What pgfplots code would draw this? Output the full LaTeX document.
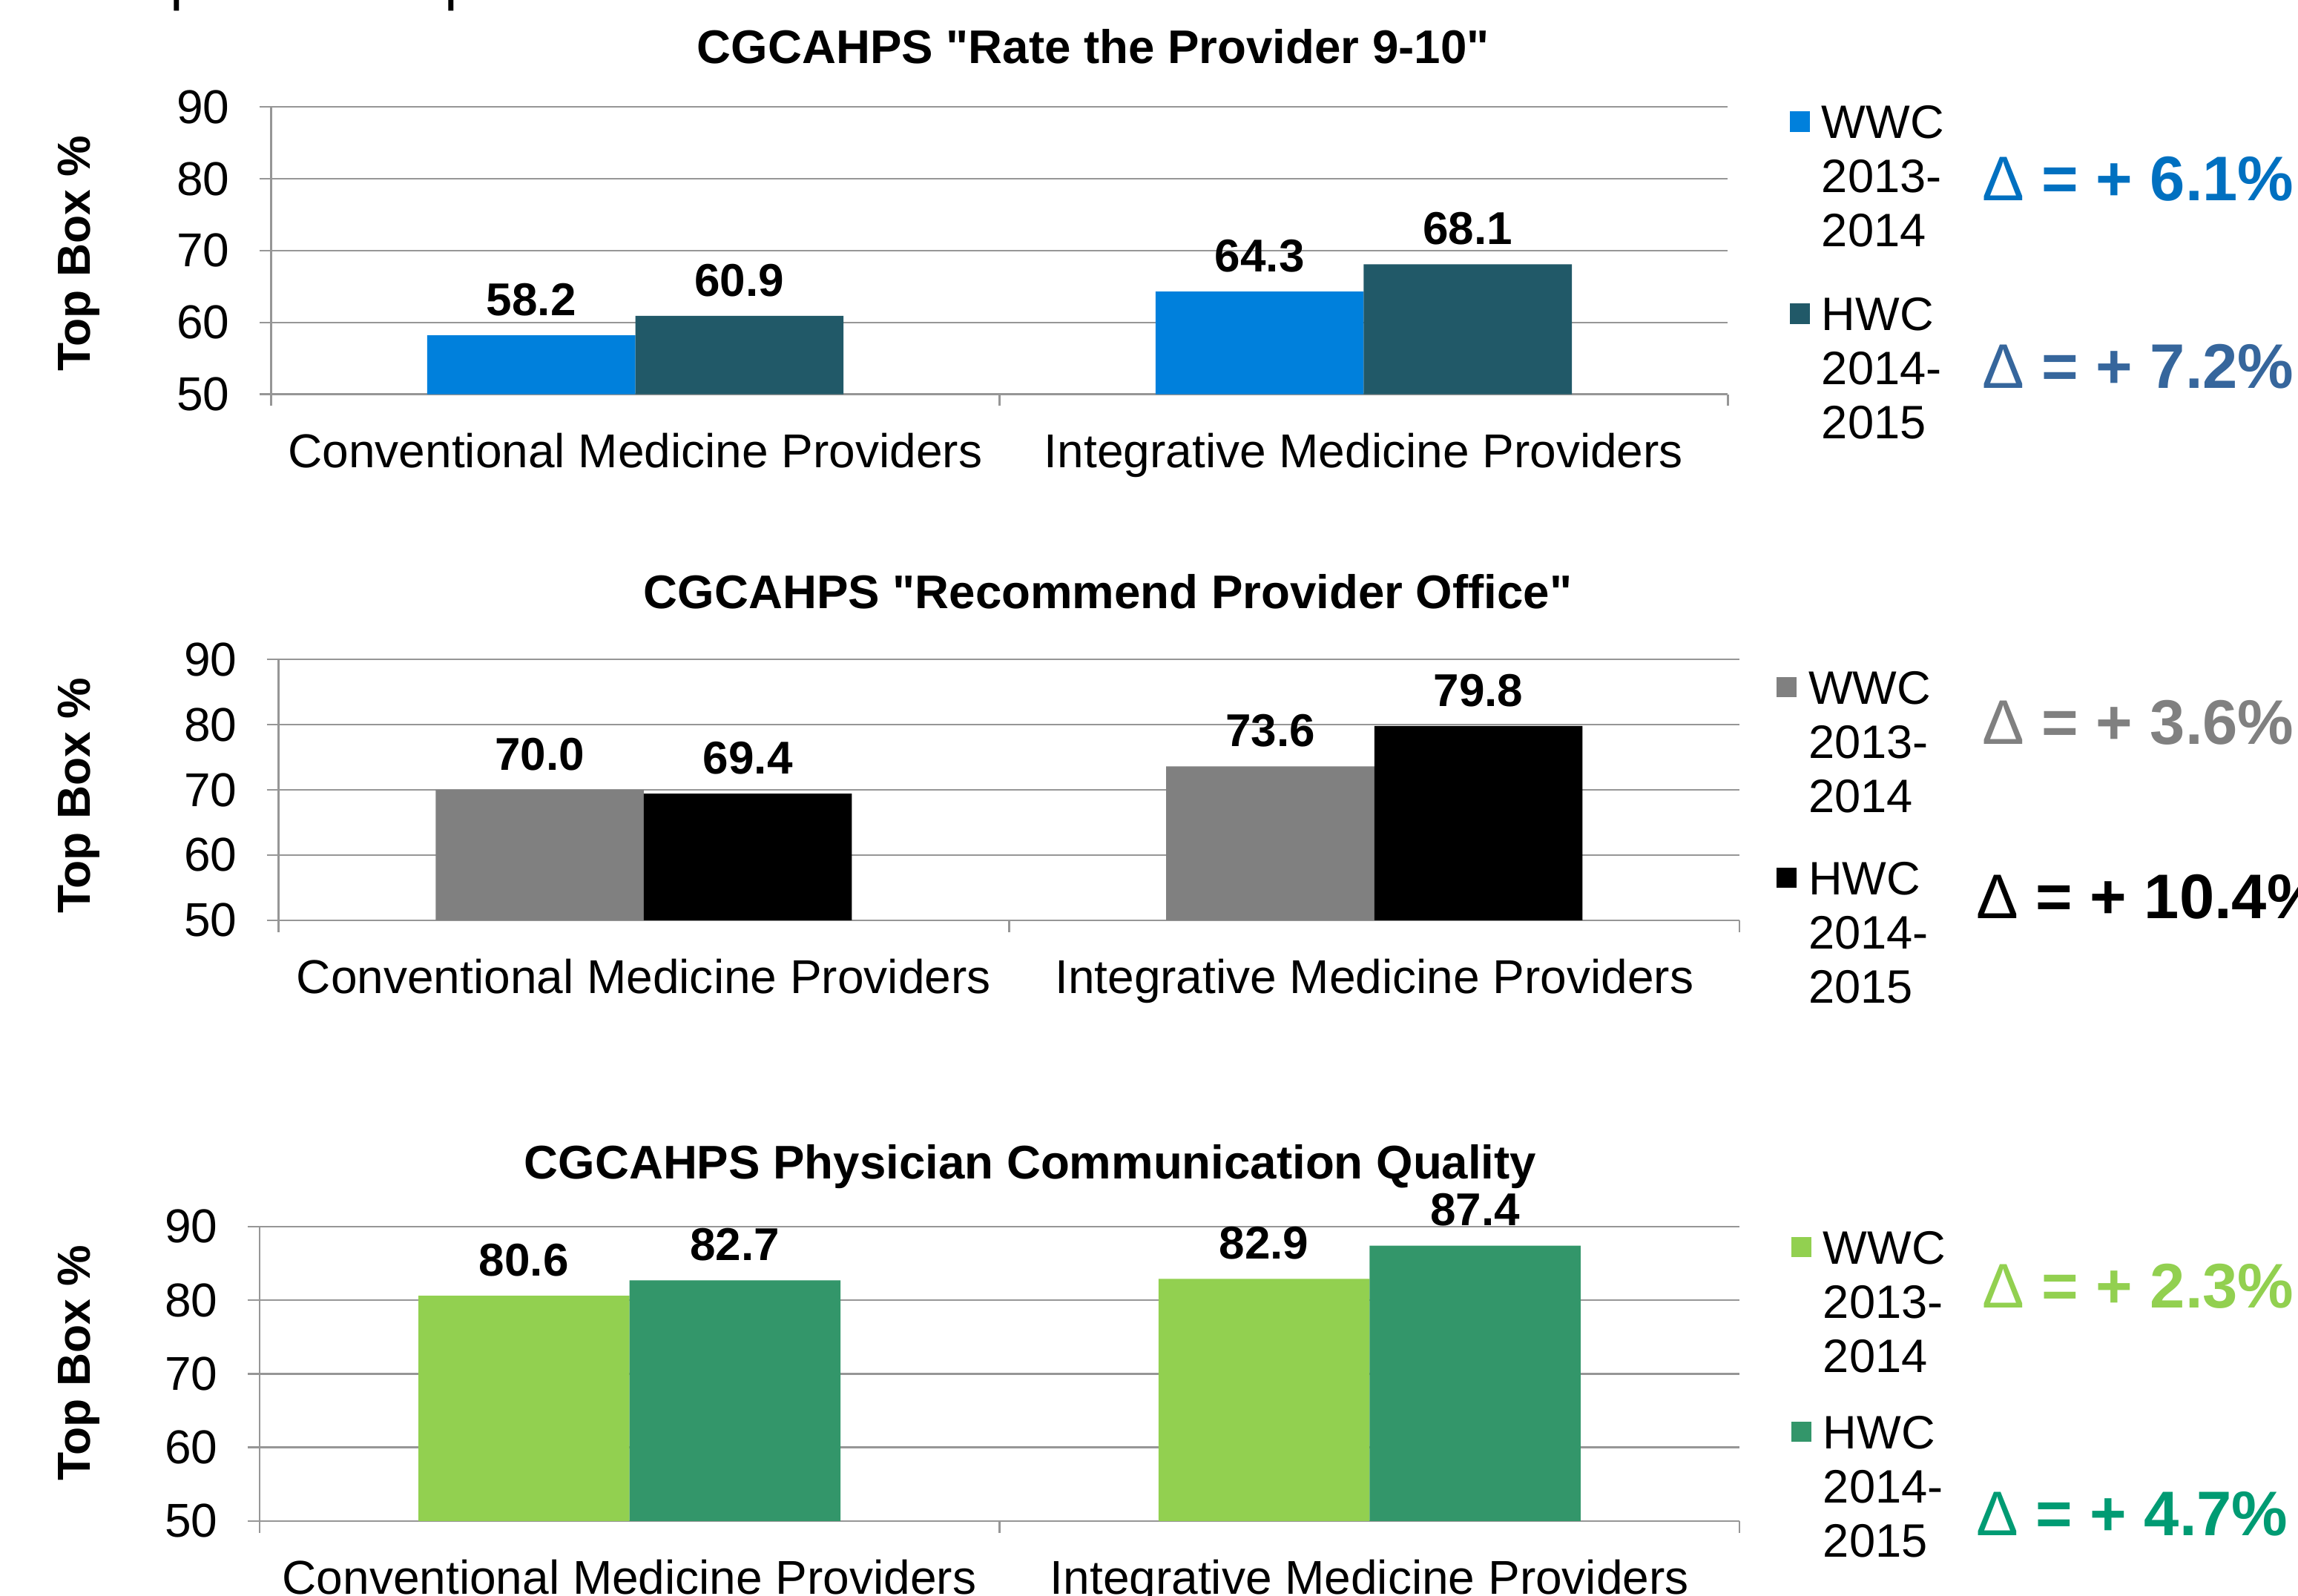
\documentclass[border=0pt]{standalone}
\usepackage{pgfplots}
\pgfplotsset{compat=1.18}
\usepackage{fontspec}
\setmainfont{Liberation Sans}[Ligatures=TeXOff]
\definecolor{gridgray}{RGB}{150,150,150}
\definecolor{blueWWC}{RGB}{0,128,220}
\definecolor{tealHWC}{RGB}{33,89,104}
\definecolor{dBlueA}{RGB}{0,112,192}
\definecolor{dBlueB}{RGB}{54,102,156}
\definecolor{grayWWC}{RGB}{128,128,128}
\definecolor{greenWWC}{RGB}{146,208,80}
\definecolor{greenHWC}{RGB}{51,150,106}
\definecolor{dGreenB}{RGB}{0,155,115}

\newcommand{\ls}{\rule[-5.55pt]{0pt}{18.5pt}}
\newcommand{\lgap}[1]{\rule[-#1]{0pt}{0pt}}

\pgfplotsset{
  sq/.style={fill=#1, draw=none,
    legend image code/.code={\path[fill=#1] (0pt,2.25pt) rectangle (7pt,9.25pt);}},
  mybars/.style={
    ybar=0pt, scale only axis, anchor=south west,
    xmin=-0.5, xmax=1.5, ymin=50, ymax=90,
    xtick={-0.5,0.5,1.5}, xticklabels={},
    extra x ticks={0,1},
    extra x tick labels={Conventional Medicine Providers, Integrative Medicine Providers},
    extra x tick style={major tick length=0pt, xmajorgrids=false},
    ytick={50,60,70,80,90},
    tick align=outside, major tick length=4pt,
    tick style={draw=gridgray, line width=0.6pt},
    axis x line*=bottom, axis y line*=left,
    axis line style={draw=gridgray, line width=0.6pt, -},
    ymajorgrids, major grid style={draw=gridgray, line width=0.6pt},
    ticklabel style={font=\fontsize{16.2}{19}\selectfont},
    xticklabel style={anchor=base, inner sep=0pt, yshift=-25pt},
    yticklabel style={anchor=east, inner sep=0pt, xshift=-10pt},
    /pgf/number format/assume math mode=true,
    nodes near coords={\pgfmathprintnumber[fixed,fixed zerofill,precision=1]{\pgfplotspointmeta}},
    every node near coord/.append style={font=\bfseries\fontsize{15.7}{18}\selectfont,
      anchor=south, inner sep=0pt, yshift=6.4pt, text=black},
    legend style={draw=none, fill=none, inner sep=0pt, outer sep=0pt,
      anchor=north west, column sep=4pt, row sep=0pt,
      nodes={anchor=base west, inner sep=0pt, text depth=, text height=},
      font=\fontsize{16}{18.5}\selectfont},
  }
}

\begin{document}
\begin{tikzpicture}

% ---------- top chart ----------
\begin{axis}[mybars, at={(92.5pt,-134.5pt)}, width=497pt, height=98pt,
  bar width=71pt,
  legend style={at={(1.0423,1.0224)}}]
\addplot[sq=blueWWC] coordinates {(0,58.2) (1,64.3)};
\addlegendentry{\ls WWC}
\addlegendimage{empty legend}\addlegendentry{\ls 2013-}
\addlegendimage{empty legend}\addlegendentry{\ls 2014\lgap{15.55pt}}
\addplot[sq=tealHWC] coordinates {(0,60.9) (1,68.1)};
\addlegendentry{\ls HWC}
\addlegendimage{empty legend}\addlegendentry{\ls 2014-}
\addlegendimage{empty legend}\addlegendentry{\ls 2015}
\end{axis}

% ---------- middle chart ----------
\begin{axis}[mybars, at={(95pt,-314pt)}, width=498.5pt, height=89pt,
  bar width=71pt,
  legend style={at={(1.0251,0.9742)}}]
\addplot[sq=grayWWC] coordinates {(0,70.0) (1,73.6)};
\addlegendentry{\ls WWC}
\addlegendimage{empty legend}\addlegendentry{\ls 2013-}
\addlegendimage{empty legend}\addlegendentry{\ls 2014\lgap{15.05pt}}
\addplot[sq=black] coordinates {(0,69.4) (1,79.8)};
\addlegendentry{\ls HWC}
\addlegendimage{empty legend}\addlegendentry{\ls 2014-}
\addlegendimage{empty legend}\addlegendentry{\ls 2015}
\end{axis}

% ---------- bottom chart ----------
\begin{axis}[mybars, at={(88.5pt,-519pt)}, width=505pt, height=100.5pt,
  bar width=72pt,
  legend style={at={(1.0347,1.002)}}]
\addplot[sq=greenWWC] coordinates {(0,80.6) (1,82.9)};
\addlegendentry{\ls WWC}
\addlegendimage{empty legend}\addlegendentry{\ls 2013-}
\addlegendimage{empty legend}\addlegendentry{\ls 2014\lgap{13.05pt}}
\addplot[sq=greenHWC] coordinates {(0,82.7) (1,87.4)};
\addlegendentry{\ls HWC}
\addlegendimage{empty legend}\addlegendentry{\ls 2014-}
\addlegendimage{empty legend}\addlegendentry{\ls 2015}
\end{axis}

\begin{scope}[x=0.5pt, y=-0.5pt]
  % remnants of a line of text above the picture
  \node[anchor=base west, inner sep=0pt, font=\fontsize{20}{24}\selectfont] at (116,-1) {p};
  \node[anchor=base west, inner sep=0pt, font=\fontsize{20}{24}\selectfont] at (303,-1) {p};
  % titles
  \node[anchor=base, inner sep=0pt, font=\bfseries\fontsize{16.1}{19}\selectfont] at (746,43.5) {CGCAHPS "Rate the Provider 9-10"};
  \node[anchor=base, inner sep=0pt, font=\bfseries\fontsize{16.1}{19}\selectfont] at (756,415.5) {CGCAHPS "Recommend Provider Office"};
  \node[anchor=base, inner sep=0pt, font=\bfseries\fontsize{16.1}{19}\selectfont] at (703,804.5) {CGCAHPS Physician Communication Quality};
  % y labels
  \node[rotate=90, inner sep=0pt, font=\bfseries\fontsize{15.8}{18}\selectfont] at (54,173) {Top Box \%};
  \node[rotate=90, inner sep=0pt, font=\bfseries\fontsize{15.8}{18}\selectfont] at (54,543) {Top Box \%};
  \node[rotate=90, inner sep=0pt, font=\bfseries\fontsize{15.8}{18}\selectfont] at (54,930) {Top Box \%};
  % deltas
  \begin{scope}[every node/.style={anchor=west, inner sep=0pt, font=\bfseries\fontsize{21.5}{25}\selectfont}]
    \node[text=dBlueA] at (1352,122) {{\mdseries Δ} = + 6.1\%};
    \node[text=dBlueB] at (1352,250) {{\mdseries Δ} = + 7.2\%};
    \node[text=grayWWC] at (1352,493) {{\mdseries Δ} = + 3.6\%};
    \node[text=black] at (1348,612) {{\mdseries Δ} = + 10.4\%};
    \node[text=greenWWC] at (1352,878) {{\mdseries Δ} = + 2.3\%};
    \node[text=dGreenB] at (1348,1033) {{\mdseries Δ} = + 4.7\%};
  \end{scope}
\end{scope}
\pgfresetboundingbox
\useasboundingbox (0pt,0pt) rectangle (784pt,-544.5pt);
\end{tikzpicture}
\end{document}
